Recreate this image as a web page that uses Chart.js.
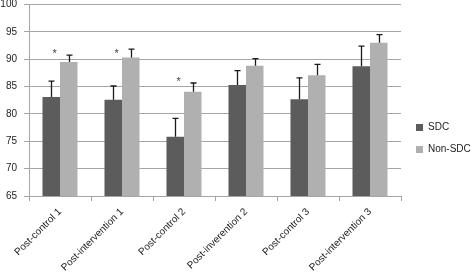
<!DOCTYPE html>
<html>
<head>
<meta charset="utf-8">
<script src="https://cdn.jsdelivr.net/npm/chart.js@4/dist/chart.umd.min.js"></script>
<style>
html,body{margin:0;padding:0;background:#fff;}
#wrap{position:relative;width:472px;height:277px;}
</style>
</head>
<body>
<div id="wrap"><canvas id="c" width="472" height="277"></canvas></div>
<script>
const categories = ['Post-control 1','Post-intervention 1','Post-control 2','Post-inverention 2','Post-control 3','Post-intervention 3'];
const sdcValues = [83.1, 82.6, 75.85, 85.3, 82.7, 88.7];
const sdcErrors = [2.9, 2.5, 3.35, 2.6, 3.9, 3.7];
const nonSdcValues = [89.5, 90.3, 84.05, 88.8, 87.05, 93.0];
const nonSdcErrors = [1.25, 1.55, 1.6, 1.3, 2.0, 1.5];
const significanceY = [91.4, 91.3, 86.2, null, null, null];
const yTicks = [65, 70, 75, 80, 85, 90, 95, 100];

const FONT = "'Liberation Sans', Arial, sans-serif";

const errorBarPlugin = {
  id: 'errorBars',
  afterDatasetsDraw(chart) {
    const ctx = chart.ctx;
    const yScale = chart.scales.y;
    const errs = [sdcErrors, nonSdcErrors];
    ctx.save();
    ctx.strokeStyle = '#1a1a1a';
    ctx.lineWidth = 1.3;
    chart.data.datasets.forEach((ds, i) => {
      const meta = chart.getDatasetMeta(i);
      meta.data.forEach((bar, j) => {
        const v = ds.data[j];
        const top = yScale.getPixelForValue(v + errs[i][j]);
        const x = Math.round(bar.x) + 0.5;
        ctx.beginPath();
        ctx.moveTo(x, bar.y);
        ctx.lineTo(x, top);
        ctx.moveTo(x - 3, top);
        ctx.lineTo(x + 3, top);
        ctx.stroke();
      });
    });
    const meta0 = chart.getDatasetMeta(0);
    ctx.fillStyle = '#444';
    ctx.font = '11px ' + FONT;
    ctx.textAlign = 'center';
    ctx.textBaseline = 'middle';
    significanceY.forEach((v, j) => {
      if (v === null) return;
      const x = meta0.data[j].x + 3.5;
      const y = yScale.getPixelForValue(v);
      ctx.fillText('*', x, y + 2);
    });
    ctx.restore();
  }
};

new Chart(document.getElementById('c'), {
  type: 'bar',
  data: {
    labels: categories,
    datasets: [
      { label: 'SDC', data: sdcValues, backgroundColor: '#5c5c5c', borderWidth: 0,
        categoryPercentage: 0.565, barPercentage: 1.0 },
      { label: 'Non-SDC', data: nonSdcValues, backgroundColor: '#b0b0b0', borderWidth: 0,
        categoryPercentage: 0.565, barPercentage: 1.0 }
    ]
  },
  options: {
    responsive: false,
    animation: false,
    devicePixelRatio: 1,
    layout: { padding: { top: 0, left: 0, right: 0, bottom: 0 } },
    plugins: {
      legend: {
        position: 'right',
        align: 'center',
        maxWidth: 68,
        labels: {
          boxWidth: 7, boxHeight: 7, padding: 12,
          color: '#222',
          font: { family: FONT, size: 10 }
        }
      },
      tooltip: { enabled: false }
    },
    scales: {
      x: {
        afterFit(scale) { scale.paddingLeft = 0; scale.paddingRight = 0; scale.height = 81; },
        grid: { display: true, drawOnChartArea: false, drawTicks: true, tickLength: 5, color: '#a6a6a6', offset: true },
        border: { display: true, color: '#a6a6a6', width: 1 },
        ticks: {
          color: '#222',
          font: { family: FONT, size: 10 },
          minRotation: 45, maxRotation: 45,
          autoSkip: false,
          padding: 5,
          labelOffset: 0
        }
      },
      y: {
        min: 65, max: 100,
        afterBuildTicks(scale) { scale.ticks = yTicks.map(v => ({ value: v })); },
        afterFit(scale) { scale.paddingTop = 4.5; scale.paddingBottom = 0; scale.width = 29; },
        grid: { color: '#a6a6a6', tickLength: 5, lineWidth: 1 },
        border: { display: true, color: '#a6a6a6', width: 1 },
        ticks: {
          color: '#222',
          padding: 7,
          font: { family: FONT, size: 10, lineHeight: 0.9 }
        }
      },
      pad: {
        type: 'linear',
        position: 'right',
        display: true,
        grid: { display: false, drawTicks: false },
        border: { display: false },
        ticks: { display: false },
        afterFit(scale) { scale.width = 3; }
      }
    }
  },
  plugins: [errorBarPlugin]
});
</script>
</body>
</html>
